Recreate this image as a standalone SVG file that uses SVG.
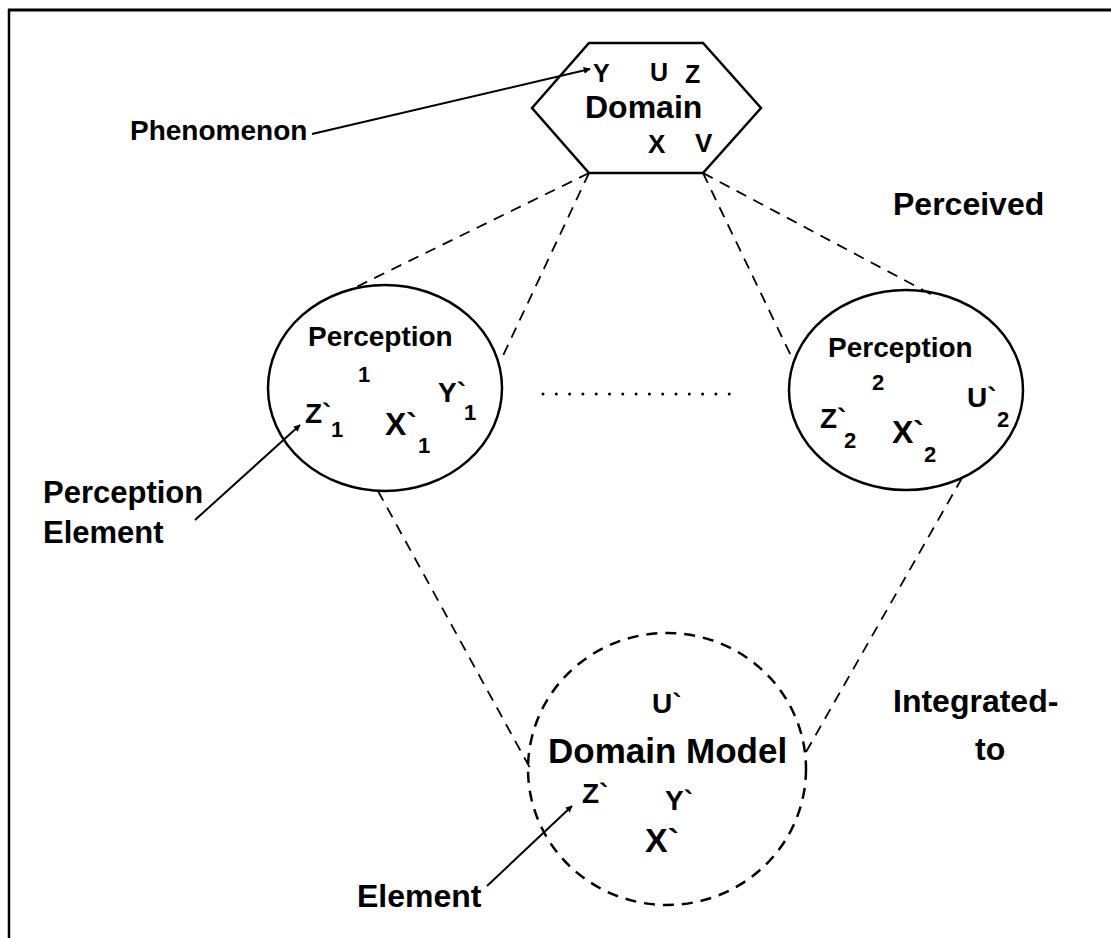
<svg xmlns="http://www.w3.org/2000/svg" width="1111" height="938" viewBox="0 0 1111 938">
<style>
text{font-family:"Liberation Sans",Arial,sans-serif;font-weight:bold;fill:#000}
.solid{fill:none;stroke:#000;stroke-width:2.5}
.dash{fill:none;stroke:#000;stroke-width:1.8;stroke-dasharray:11 8}
.arrow{fill:none;stroke:#000;stroke-width:2;marker-end:url(#ah)}
.sub{font-size:22px}
</style>
<defs>
<marker id="ah" viewBox="0 0 10 10" refX="9" refY="5" markerWidth="7" markerHeight="7" markerUnits="userSpaceOnUse" orient="auto">
<path d="M0,0 L10,5 L0,10 z" fill="#000"/>
</marker>
</defs>
<rect width="1111" height="938" fill="#fff"/>
<g id="frame">
<line x1="8" y1="10" x2="1111" y2="10" stroke="#000" stroke-width="3"/>
<line x1="9" y1="9" x2="9" y2="938" stroke="#000" stroke-width="2.5"/>
</g>
<g id="connectors">
<line class="dash" x1="589" y1="173" x2="350" y2="290"/>
<line class="dash" x1="589" y1="173" x2="500" y2="362"/>
<line class="dash" x1="703" y1="173" x2="793" y2="360"/>
<line class="dash" x1="703" y1="173" x2="938" y2="298"/>
<line class="dash" x1="378" y1="491" x2="530" y2="768"/>
<line class="dash" x1="962" y1="478" x2="806" y2="752"/>
<line x1="543" y1="394" x2="742" y2="394" stroke="#000" stroke-width="3" stroke-linecap="round" stroke-dasharray="0 13.3"/>
<line class="arrow" x1="312" y1="134" x2="590" y2="69"/>
<line class="arrow" x1="195" y1="520" x2="300" y2="425"/>
<line class="arrow" x1="487" y1="886" x2="572" y2="806"/>
</g>
<g id="domain">
<polygon class="solid" points="532,108 589,43 703,43 761,108 703,173 589,173"/>
<text x="593" y="82" font-size="25">Y</text>
<text x="650" y="81" font-size="25">U</text>
<text x="685" y="83" font-size="25">Z</text>
<text x="585" y="118" font-size="32">Domain</text>
<text x="648" y="153" font-size="26">X</text>
<text x="695" y="152" font-size="26">V</text>
</g>
<g id="perception1">
<ellipse class="solid" cx="385" cy="388" rx="117" ry="103"/>
<text x="308" y="346" font-size="28">Perception</text>
<text x="358" y="382" class="sub">1</text>
<text x="305" y="423" font-size="28">Z`</text>
<text x="331" y="437" class="sub">1</text>
<text x="385" y="435" font-size="32">X`</text>
<text x="418" y="453" class="sub">1</text>
<text x="438" y="402" font-size="28">Y`</text>
<text x="464" y="420" class="sub">1</text>
</g>
<g id="perception2">
<ellipse class="solid" cx="906" cy="390" rx="117" ry="100"/>
<text x="828" y="357" font-size="28">Perception</text>
<text x="872" y="390" class="sub">2</text>
<text x="820" y="428" font-size="28">Z`</text>
<text x="844" y="448" class="sub">2</text>
<text x="892" y="443" font-size="32">X`</text>
<text x="924" y="462" class="sub">2</text>
<text x="967" y="407" font-size="28">U`</text>
<text x="997" y="427" class="sub">2</text>
</g>
<g id="domainmodel">
<ellipse cx="667" cy="769" rx="139" ry="136" fill="none" stroke="#000" stroke-width="2.5" stroke-dasharray="11 8"/>
<text x="652" y="713" font-size="28">U`</text>
<text x="548" y="763" font-size="35">Domain Model</text>
<text x="582" y="803" font-size="28">Z`</text>
<text x="665" y="810" font-size="28">Y`</text>
<text x="645" y="852" font-size="34">X`</text>
</g>
<g id="labels">
<text x="130" y="140" font-size="28">Phenomenon</text>
<text x="893" y="215" font-size="32">Perceived</text>
<text x="43" y="503" font-size="31">Perception</text>
<text x="43" y="543" font-size="31">Element</text>
<text x="893" y="712" font-size="32">Integrated-</text>
<text x="975" y="760" font-size="32">to</text>
<text x="357" y="907" font-size="32">Element</text>
</g>
</svg>
